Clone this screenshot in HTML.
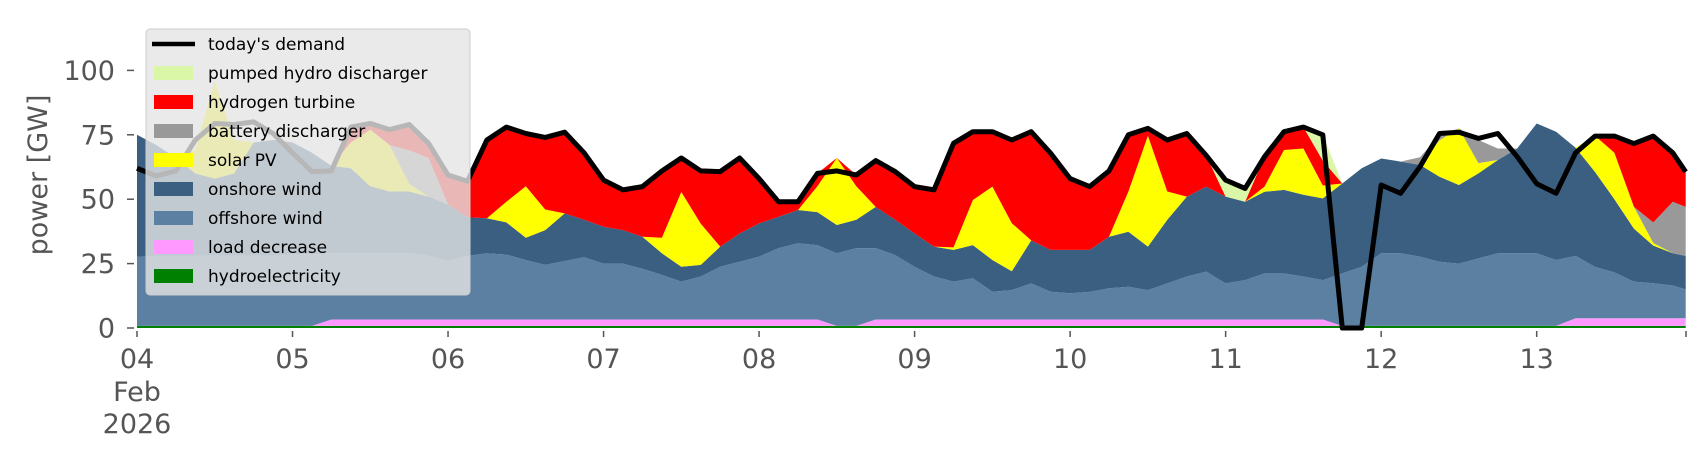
<!DOCTYPE html>
<html><head><meta charset="utf-8"><style>
html,body{margin:0;padding:0;background:#fff;}
svg{display:block;font-family:"DejaVu Sans","Liberation Sans",sans-serif;}
</style></head><body>
<svg id="chart" width="1706" height="460" viewBox="0 0 1706 460" xmlns="http://www.w3.org/2000/svg">
<g id="areas"></g>
<g id="demandG"></g>
<g id="axes"></g>
<text transform="translate(47,175) rotate(-90)" text-anchor="middle" font-size="27" fill="#555">power [GW]</text>
<g id="legend"></g>
</svg>
<script>
const hours=[0,3,6,9,12,15,18,21,24,27,30,33,36,39,42,45,48,51,54,57,60,63,66,69,72,75,78,81,84,87,90,93,96,99,102,105,108,111,114,117,120,123,126,129,132,135,138,141,144,147,150,153,156,159,162,165,168,171,174,177,180,183,186,189,192,195,198,201,204,207,210,213,216,219,222,225,228,231,234,237,239];
const demand=[62,59,61,73,79.4,79,80,75.5,68,60.7,61,78,79.4,77,79,71.7,59.4,57,73,78,75.5,74,76,68,57.4,53.6,54.9,61,66,61,60.7,66,58,49,49,60,61,59.4,65,60.7,54.9,53.6,71.7,76.2,76.2,73,76.2,67.8,58,54.9,61,75,77.5,73,75.5,67,57.4,54.2,66.5,76.2,78,75,0,0,55.5,52.3,62.6,75.5,76,73.6,75.5,66.5,56,52.3,68,74.5,74.5,71.6,74.5,68,60.6];
const hydro=[0.8,0.8,0.8,0.8,0.8,0.8,0.8,0.8,0.8,0.8,0.8,0.8,0.8,0.8,0.8,0.8,0.8,0.8,0.8,0.8,0.8,0.8,0.8,0.8,0.8,0.8,0.8,0.8,0.8,0.8,0.8,0.8,0.8,0.8,0.8,0.8,0.8,0.8,0.8,0.8,0.8,0.8,0.8,0.8,0.8,0.8,0.8,0.8,0.8,0.8,0.8,0.8,0.8,0.8,0.8,0.8,0.8,0.8,0.8,0.8,0.8,0.8,0.8,0.8,0.8,0.8,0.8,0.8,0.8,0.8,0.8,0.8,0.8,0.8,0.8,0.8,0.8,0.8,0.8,0.8,0.8];
const loadDecrease=[0,0,0,0,0,0,0,0,0,0,2.5,2.5,2.5,2.5,2.5,2.5,2.5,2.5,2.5,2.5,2.5,2.5,2.5,2.5,2.5,2.5,2.5,2.5,2.5,2.5,2.5,2.5,2.5,2.5,2.5,2.5,0,0,2.5,2.5,2.5,2.5,2.5,2.5,2.5,2.5,2.5,2.5,2.5,2.5,2.5,2.5,2.5,2.5,2.5,2.5,2.5,2.5,2.5,2.5,2.5,2.5,0,0,0,0,0,0,0,0,0,0,0,0,3,3,3,3,3,3,3];
const offshore=[26.9,27.2,27.2,27.2,27.2,27.2,27.2,27.2,27.7,27.7,25.7,25.7,25.7,25.7,25.7,24.7,22.7,24.7,25.7,25.2,23.1,21.2,22.7,24.2,21.7,21.7,19.7,17.3,14.7,16.7,20.5,22.4,24.4,27.7,29.6,28.9,28.2,30.2,27.7,25,20.5,16.7,14.7,16,10.8,11.4,14,10.8,10.2,10.7,12.1,12.7,11.4,14,16.7,18.6,14,15.3,17.9,17.9,16.7,15.3,20.4,23,28.2,28.2,26.9,24.9,24.2,26.2,28.2,28.2,28.2,25.6,24.2,19.9,17.8,14.2,13.6,12.7,11.2];
const onshore=[47.3,43,38,32,30,32,44,45,43.5,39.5,34,33,26,24,24,23,22,15,13.6,12.5,8.6,13.5,18.5,14.5,14.3,13,12.4,8.4,5.8,4.5,7.8,11,12.9,12.2,12.9,12.8,11,11,16,13.7,12.9,11.6,12.3,12.9,12.3,7.3,16.7,16.2,16.8,16.3,20,21.4,16.9,24.7,31,33,33.7,30.4,31.7,32.4,31.7,31.7,34.9,38.2,36.8,35.6,35.6,33,30.5,33,36.2,40.7,50.4,49.8,42,36.9,28.4,20.6,14.6,12.5,13];
const solar=[0,0,0,9,38,13,0,0,0,0,0,10,22,18,3,0,0,0,0,8,20,8,0,0,0,0,0,6,29,16,0,0,0,0,0,10,26,13,0,0,0,0,1,17.5,28.5,18.7,0,0,0,0,0,15.6,43,11,0,0,0,0,2,15.5,18,5,0,0,0,0,0,14.2,22,4,0,0,0,0,0,14,18,8.5,1,0,0];
const battery=[0,0,0,0,0,0,0,0,0,0,0,0,0,0,13,15,0,0,0,0,0,0,0,0,0,0,0,0,0,0,0,0,0,0,0,0,0,0,0,0,0,0,0,0,0,0,0,0,0,0,0,0,0,0,0,0,0,0,0,0,0,0,0,0,0,0,3,2,0,9,4.5,0,0,0,0,0,0,0,8,20,19];
const hydrogen=[0,0,0,0,0,0,0,0,0,0,0,6,2,6,10,6,11,14,30.4,29,20.5,28,31.5,26,18,15.6,19.5,26,13,20.5,29,29.3,17.4,5.8,3.2,5,0,4.4,18,18.7,18.2,22,40.4,26.5,21.3,32.3,42.2,37.5,27.7,24.6,25.6,22,2.9,20,24.5,12.1,0,0,11.6,7.1,8.3,9.7,0,0,0,0,0,0,0,0,0,0,0,0,0,0,6.5,24.5,33.5,19,13.6];
const pumped=[0,0,0,0,0,0,0,0,0,0,0,0,0,0,0,0,0,0,0,0,0,0,0,0,0,0,0,0,0,0,0,0,0,0,0,0,0,0,0,0,0,0,0,0,0,0,0,0,0,0,0,0,0,0,0,0,6.4,5.2,0,0,0,10,0,0,0,0,0,0,0,0,0,0,0,0,0,0,0,0,0,0,0];
const yTicks=[0,25,50,75,100];
const dayLabels=["04","05","06","07","08","09","10","11","12","13"];

const NS="http://www.w3.org/2000/svg";
const X0=137,PXH=6.48,Y0=328,PXV=2.576;
const xs=h=>X0+h*PXH, ys=v=>Y0-v*PXV;
function mk(tag,attrs,parent){const e=document.createElementNS(NS,tag);for(const k in attrs)e.setAttribute(k,attrs[k]);parent.appendChild(e);return e;}

const layers=[
 {name:"hydroelectricity",vals:hydro,color:"#008000"},
 {name:"load decrease",vals:loadDecrease,color:"#ff99ff"},
 {name:"offshore wind",vals:offshore,color:"#5b80a2"},
 {name:"onshore wind",vals:onshore,color:"#3a5f80"},
 {name:"solar PV",vals:solar,color:"#ffff00"},
 {name:"battery discharger",vals:battery,color:"#999999"},
 {name:"hydrogen turbine",vals:hydrogen,color:"#ff0000"},
 {name:"pumped hydro discharger",vals:pumped,color:"#d9f7a6"}
];
const areasG=document.getElementById('areas');
let base=hours.map(()=>0);
layers.forEach(L=>{
  const top=base.map((b,i)=>b+L.vals[i]);
  let d="M"+hours.map((h,i)=>xs(h).toFixed(1)+","+ys(top[i]).toFixed(1)).join("L");
  for(let i=hours.length-1;i>=0;i--) d+="L"+xs(hours[i]).toFixed(1)+","+ys(base[i]).toFixed(1);
  d+="Z";
  const p=mk('path',{d:d,fill:L.color,stroke:"none"},areasG);
  
  
  base=top;
});
const dg=document.getElementById('demandG');
const dl=mk('polyline',{points:hours.map((h,i)=>xs(h).toFixed(1)+","+ys(demand[i]).toFixed(1)).join(" "),fill:"none",stroke:"#000","stroke-width":5,"stroke-linejoin":"round"},dg);



const ax=document.getElementById('axes');
yTicks.forEach(v=>{
  const t=mk('line',{x1:127,x2:134,y1:ys(v),y2:ys(v),stroke:"#555","stroke-width":1.5},ax);
  
  
  const l=mk('text',{x:115,y:ys(v)+9.5,"text-anchor":"end","font-size":27,fill:"#555"},ax);
  l.textContent=v;
  
  
});
dayLabels.forEach((lab,i)=>{
  const x=xs(i*24);
  const t=mk('line',{x1:x,x2:x,y1:331,y2:337,stroke:"#555","stroke-width":1.5},ax);
  
  
  const l=mk('text',{x:x,y:368,"text-anchor":"middle","font-size":27,fill:"#555"},ax);
  l.textContent=lab;
  
  
});
const te=mk('line',{x1:1686,x2:1686,y1:331,y2:337,stroke:"#555","stroke-width":1.5},ax);


[["Feb",401],["2026",433]].forEach(([s,y])=>{
  const l=mk('text',{x:X0,y:y,"text-anchor":"middle","font-size":27,fill:"#555"},ax);
  l.textContent=s;
  
  
});

const lg=document.getElementById('legend');
const box=mk('rect',{x:146,y:29,width:324,height:266,rx:4,fill:"#e5e5e5","fill-opacity":0.8,stroke:"#cccccc","stroke-width":1},lg);


const entries=[{name:"today's demand",line:true}].concat(layers.slice().reverse());
entries.forEach((E,i)=>{
  const cy=44+i*29;
  if(E.line){
    const s=mk('line',{x1:152,x2:195,y1:cy,y2:cy,stroke:"#000","stroke-width":4.5},lg);
    
    
  } else {
    const s=mk('rect',{x:154,y:cy-7,width:39,height:14,fill:E.color},lg);
    
    
  }
  const t=mk('text',{x:208,y:cy+6,"font-size":17,fill:"#000"},lg);
  t.textContent=E.name;
  
  
});
</script>
</body></html>
